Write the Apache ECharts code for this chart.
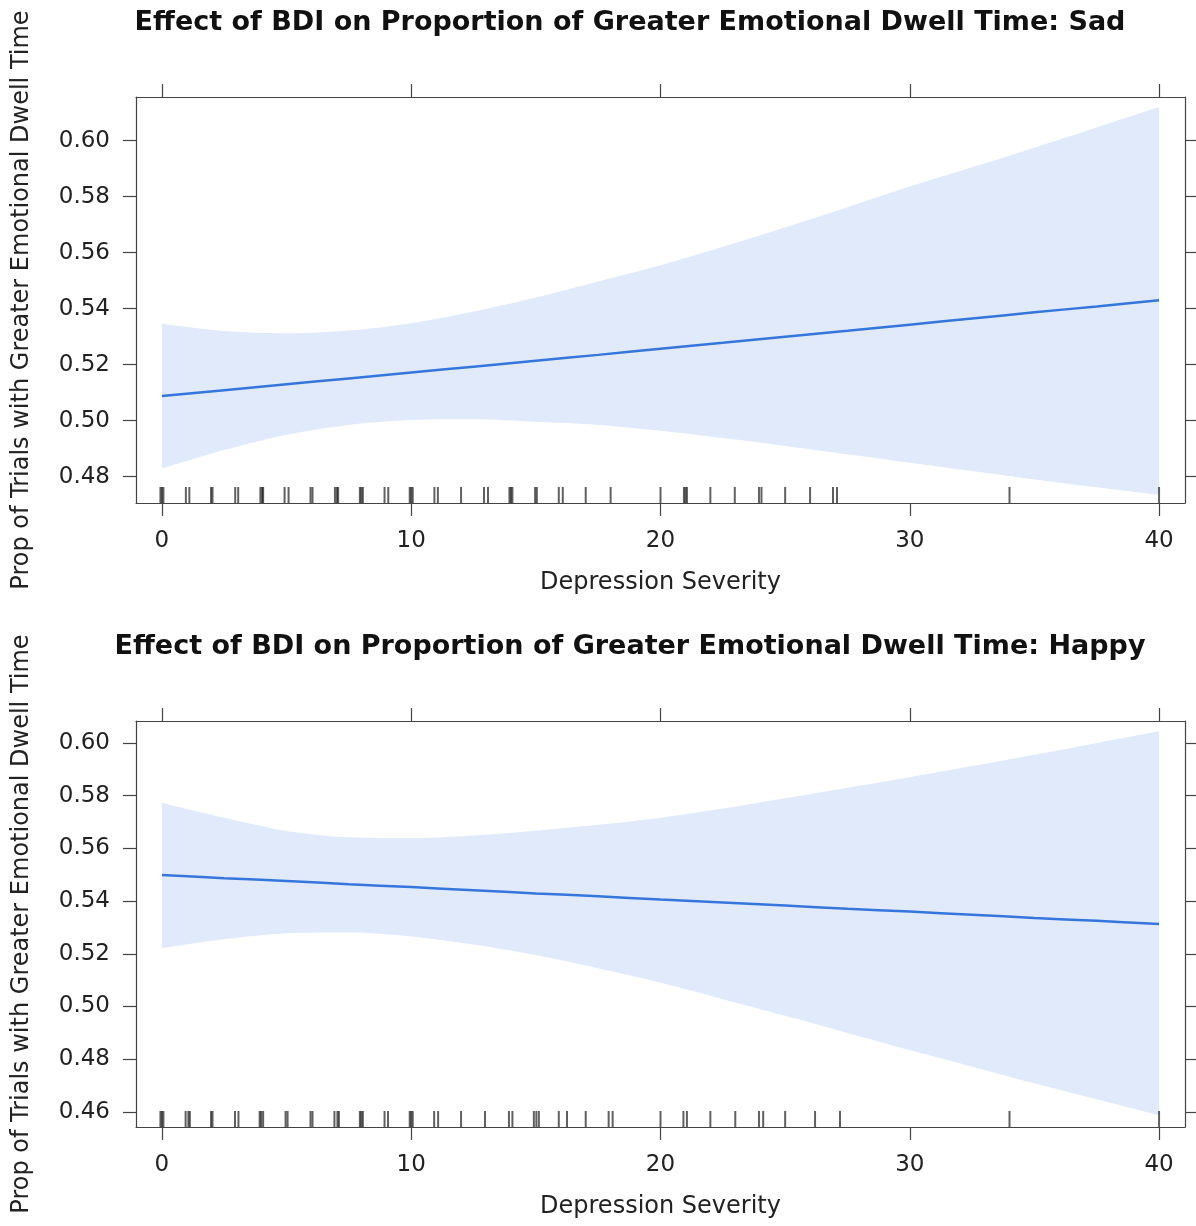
<!DOCTYPE html>
<html>
<head>
<meta charset="utf-8">
<script src="https://cdn.jsdelivr.net/npm/echarts@6/dist/echarts.min.js"></script>
<style>html,body{margin:0;padding:0;background:#fff;}#c{width:1196px;height:1226px;}</style>
</head>
<body>
<div id="c"></div>
<script>
// ---- data ----
const bdi = [0, 2.5, 5, 7.5, 10, 12.5, 15, 17.5, 20, 22.5, 25, 27.5, 30, 32.5, 35, 37.5, 40];

const sadFit   = [0.5088,0.5109,0.5130,0.5151,0.5172,0.5193,0.5214,0.5235,0.5257,0.5278,0.5300,0.5321,0.5343,0.5365,0.5387,0.5408,0.5430];
const sadUpper = [0.5346,0.5320,0.5312,0.5322,0.5348,0.5390,0.5440,0.5497,0.5555,0.5621,0.5690,0.5762,0.5836,0.5905,0.5975,0.6047,0.6120];
const sadLower = [0.4829,0.4895,0.4950,0.4985,0.5002,0.5005,0.4996,0.4985,0.4964,0.4938,0.4910,0.4880,0.4850,0.4820,0.4790,0.4762,0.4735];

const happyFit   = [0.5499,0.5487,0.5476,0.5464,0.5453,0.5441,0.5429,0.5418,0.5406,0.5395,0.5383,0.5371,0.5360,0.5348,0.5336,0.5325,0.5313];
const happyUpper = [0.5773,0.5716,0.5666,0.5642,0.5639,0.5649,0.5667,0.5689,0.5716,0.5751,0.5790,0.5830,0.5870,0.5912,0.5955,0.6000,0.6044];
const happyLower = [0.5221,0.5255,0.5278,0.5281,0.5266,0.5235,0.5195,0.5145,0.5090,0.5028,0.4965,0.4900,0.4835,0.4772,0.4709,0.4648,0.4587];

// rug (observed BDI scores, jittered as drawn)
const sadRug = [-0.06,0,0.06,0.96,1.1,1.97,2.03,2.94,3.06,3.95,4.02,4.06,4.92,5.08,5.96,6.04,6.94,7.02,7.07,7.94,8.0,8.06,8.93,9.08,9.94,10.0,10.06,10.93,11.07,12,12.92,13.08,13.94,14.0,14.06,14.97,15.04,15.92,16.08,17,18,20,20.94,21.0,21.06,22,22.98,23.95,24.05,25,26,26.92,27.08,34,40];
const happyRug = [-0.06,0,0.06,0.95,1.06,1.12,1.97,2.03,2.93,3.07,3.92,3.98,4.06,4.96,5.04,5.96,6.04,6.92,7.04,7.1,7.94,8.0,8.06,8.93,9.07,9.94,10.0,10.06,10.92,11.08,12,12.96,13.92,14.06,14.92,15.02,15.12,15.92,16.25,17,17.92,18.08,20,20.92,21.06,22,23,23.95,24.12,25,26.2,27.2,34,40];

const xTicks = [0, 10, 20, 30, 40];
const yTicks = [0.48, 0.50, 0.52, 0.54, 0.56, 0.58, 0.60];
const yTicksHappy = [0.46, 0.48, 0.50, 0.52, 0.54, 0.56, 0.58, 0.60];

const titles = [
  'Effect of BDI on Proportion of Greater Emotional Dwell Time: Sad',
  'Effect of BDI on Proportion of Greater Emotional Dwell Time: Happy'
];
const xName = 'Depression Severity';
const yName = 'Prop of Trials with Greater Emotional Dwell Time';

// ---- layout / style ----
const panels = [
  {top: 97, yMin: 0.4706, yMax: 0.6156, fit: sadFit, up: sadUpper, lo: sadLower, rug: sadRug, yt: yTicks},
  {top: 721, yMin: 0.4543, yMax: 0.6083, fit: happyFit, up: happyUpper, lo: happyLower, rug: happyRug, yt: yTicksHappy}
];
const X_MIN = -1.04, X_MAX = 41.04;
const frameColor = '#444';
const tickFont = {fontFamily: 'DejaVu Sans', fontSize: 23, color: '#222'};

const grid = [], xAxis = [], yAxis = [], series = [], title = [];
panels.forEach((p, i) => {
  grid.push({left: 136, top: p.top, width: 1049, height: 406, containLabel: false});
  title.push({
    text: titles[i], left: 625, top: p.top - 93, textAlign: 'center',
    textStyle: {fontFamily: 'DejaVu Sans', fontWeight: 'bold', fontSize: 27, color: '#111'}
  });
  const axLine = {show: true, onZero: false, lineStyle: {color: frameColor, width: 1.2}};
  const tick = (vals) => ({show: true, inside: false, length: 13, customValues: vals, lineStyle: {color: frameColor, width: 1.2}});
  xAxis.push({
    type: 'value', gridIndex: i, position: 'bottom', min: X_MIN, max: X_MAX, z: 10,
    axisLine: axLine, axisTick: tick(xTicks), splitLine: {show: false},
    axisLabel: Object.assign({customValues: xTicks, margin: 27}, tickFont),
    name: xName, nameLocation: 'middle', nameGap: 68,
    nameTextStyle: {fontFamily: 'DejaVu Sans', fontSize: 24, color: '#222'}
  });
  xAxis.push({
    type: 'value', gridIndex: i, position: 'top', min: X_MIN, max: X_MAX, z: 10,
    axisLine: axLine, axisTick: tick(xTicks), splitLine: {show: false},
    axisLabel: {show: false}
  });
  yAxis.push({
    type: 'value', gridIndex: i, position: 'left', min: p.yMin, max: p.yMax, z: 10,
    axisLine: axLine, axisTick: tick(p.yt), splitLine: {show: false},
    axisLabel: Object.assign({customValues: p.yt, margin: 26, formatter: v => v.toFixed(2)}, tickFont),
    name: yName, nameLocation: 'middle', nameGap: 102, nameRotate: 90,
    nameTextStyle: {fontFamily: 'DejaVu Sans', fontSize: 24, color: '#222'}
  });
  yAxis.push({
    type: 'value', gridIndex: i, position: 'right', min: p.yMin, max: p.yMax, z: 10,
    axisLine: axLine, axisTick: tick(p.yt), splitLine: {show: false},
    axisLabel: {show: false}
  });
  const xi = i * 2, yi = i * 2;
  // confidence band: upper area filled down to the axis start, lower area masked in white
  series.push({
    type: 'line', xAxisIndex: xi, yAxisIndex: yi,
    data: bdi.map((x, k) => [x, p.up[k]]), smooth: 0.3, symbol: 'none',
    lineStyle: {width: 0, opacity: 0}, areaStyle: {color: '#e1eafb', opacity: 1, origin: 'start'},
    silent: true, z: 1
  });
  series.push({
    type: 'line', xAxisIndex: xi, yAxisIndex: yi,
    data: bdi.map((x, k) => [x, p.lo[k]]), smooth: 0.3, symbol: 'none',
    lineStyle: {width: 0, opacity: 0}, areaStyle: {color: '#ffffff', opacity: 1, origin: 'start'},
    silent: true, z: 1
  });
  series.push({
    type: 'line', xAxisIndex: xi, yAxisIndex: yi,
    data: bdi.map((x, k) => [x, p.fit[k]]), smooth: 0.3, symbol: 'none',
    lineStyle: {color: '#3576dd', width: 2.5}, z: 3
  });
  series.push({
    type: 'scatter', xAxisIndex: xi, yAxisIndex: yi, clip: false,
    data: p.rug.map(x => [x, p.yMin]),
    symbol: 'rect', symbolSize: [2, 16], symbolOffset: [0, -8],
    itemStyle: {color: 'rgba(0,0,0,0.78)'}, z: 4, silent: true
  });
});

const chart = echarts.init(document.getElementById('c'), null, {renderer: 'canvas'});
chart.setOption({
  animation: false,
  backgroundColor: '#fff',
  title, grid, xAxis, yAxis, series
});
</script>
</body>
</html>
